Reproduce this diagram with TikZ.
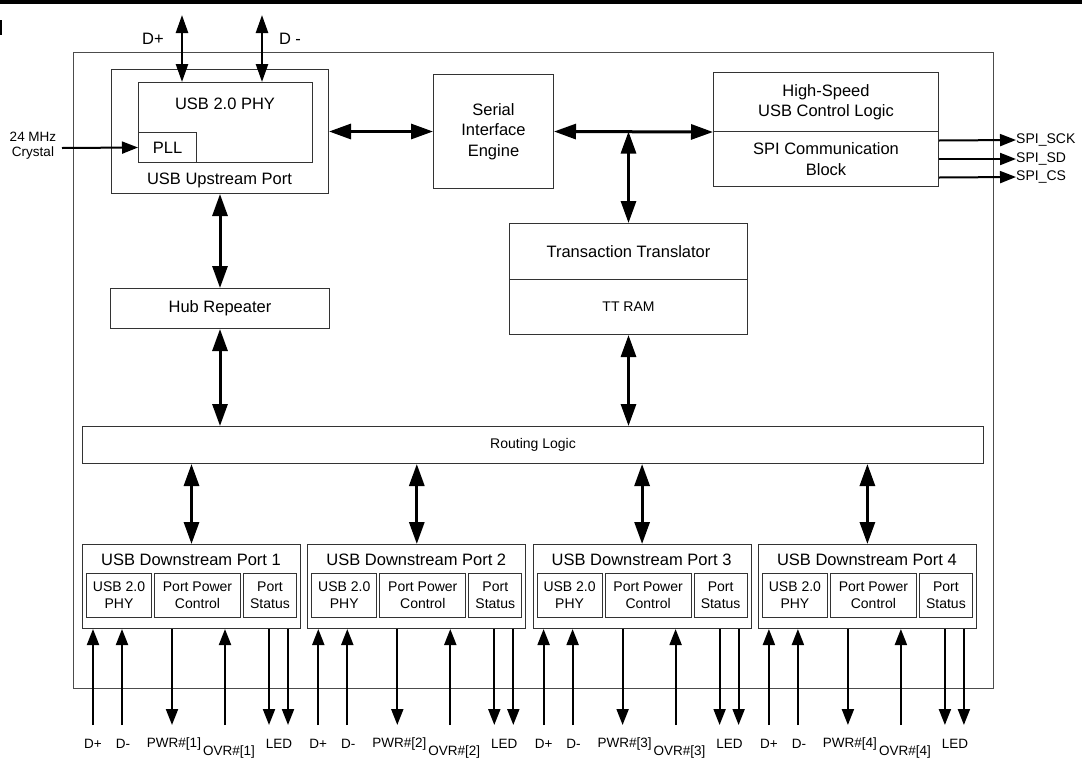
\documentclass[tikz,border=0pt]{standalone}
\usepackage{fontspec}
\setmainfont{Liberation Sans}
\usepackage{tikz}
\usetikzlibrary{arrows.meta,positioning}

\newcommand{\fntbig}{\fontsize{16.5}{20.5}\selectfont}
\newcommand{\fntmid}{\fontsize{14}{17}\selectfont}
\newcommand{\fntpin}{\fontsize{13.5}{15}\selectfont}

\begin{document}
\begin{tikzpicture}[x=1pt, y=-1pt]
    \useasboundingbox (0,0) rectangle (1082,761);
    % Define styles
    \tikzstyle{blk} = [rectangle, draw=black!80, line width=1pt, inner sep=0pt, anchor=north west, align=center, font=\fntbig]
    \tikzstyle{lbl} = [inner sep=0pt, align=center, font=\fntbig]
    \tikzstyle{bus} = [line width=3pt, {Triangle[length=22pt,width=15pt]}-{Triangle[length=22pt,width=15pt]}]
    \tikzstyle{dbus} = [line width=2.5pt, {Triangle[length=18pt,width=12pt]}-{Triangle[length=18pt,width=12pt]}]
    \tikzstyle{pin} = [line width=2pt, -{Triangle[length=16pt,width=12pt]}]

    % Page edge
    \fill (0,0) rectangle (1082,4);
    \fill (0,20) rectangle (2,35);

    % Nodes
    \node[blk, draw=black!70, minimum width=920pt, minimum height=636pt] (chip) at (73,52) {};
    \node[blk, minimum width=217pt, minimum height=124pt] (up) at (111,69) {};
    \node[blk, minimum width=174pt, minimum height=80pt] (phy) at (138,82) {};
    \node[blk, minimum width=58pt, minimum height=30pt] (pll) at (138,132) {PLL};
    \node[lbl] (phylbl) at (225,104) {USB 2.0 PHY};
    \node[lbl] (uplbl) at (219.5,180) {USB Upstream Port};
    \node[lbl, font=\fntpin] (xtal) at (33,146) {24 MHz\\Crystal};
    \node[lbl] (dplbl) at (153,39) {D+};
    \node[lbl] (dmlbl) at (290,39) {D -};
    \node[blk, minimum width=120pt, minimum height=114pt] (sie) at (433,74) {Serial\\Interface\\Engine};
    \node[blk, minimum width=225pt, minimum height=59pt] (hs) at (713,72) {High-Speed\\USB Control Logic};
    \node[blk, minimum width=225pt, minimum height=55pt] (spi) at (713,131) {SPI Communication\\Block};
    \node[lbl, font=\fntmid, anchor=west] (lsck) at (1016,140) {SPI\_SCK};
    \node[lbl, font=\fntmid, anchor=west] (lsd) at (1016,159) {SPI\_SD};
    \node[lbl, font=\fntmid, anchor=west] (lcs) at (1016,177) {SPI\_CS};
    \node[blk, minimum width=238pt, minimum height=56pt] (tt) at (509,223) {Transaction Translator};
    \node[blk, minimum width=238pt, minimum height=55pt, font=\fntmid] (ttram) at (509,279) {TT RAM};
    \node[blk, minimum width=219pt, minimum height=40pt] (hub) at (110,288) {Hub Repeater};
    \node[blk, minimum width=901pt, minimum height=37pt, font=\fntmid] (route) at (82,426) {Routing Logic};
    \coordinate (dpin) at (182,15);
    \coordinate (dmin) at (262,15);
    \coordinate (xin) at (62,148);

    % Connections
    \draw[dbus] (dpin) -- (dpin |- phy.north);
    \draw[dbus] (dmin) -- (dmin |- phy.north);
    \draw[pin] (xin) -- (pll.west);
    \draw[bus] (up.east) -- (sie.west);
    \draw[bus] (sie.east) -- (hs.south west);
    \draw[bus] (tt.north |- sie.east) -- (tt.north);
    \draw[pin] ([yshift=18.5pt]spi.east) -- (lsck.west);
    \draw[pin] (spi.east) -- (lsd.west);
    \draw[pin] ([yshift=-18.5pt]spi.east) -- (lcs.west);
    \draw[bus] (up.south) -- (hub.north);
    \draw[bus] (hub.south) -- (hub.south |- route.north);
    \draw[bus] (ttram.south) -- (ttram.south |- route.north);

    % Downstream ports
    \foreach \i in {1,...,4} {
        \pgfmathsetmacro{\px}{82+225.3*(\i-1)}
        \node[blk, minimum width=218pt, minimum height=84pt] (port\i) at (\px,544) {};
        \node[lbl] (ptitle\i) at (\px+109,560) {USB Downstream Port \i};
        \node[blk, minimum width=65pt, minimum height=44pt, font=\fntmid] (uphy\i) at (\px+4,573) {USB 2.0\\PHY};
        \node[blk, minimum width=86pt, minimum height=44pt, font=\fntmid] (ppc\i) at (\px+72,573) {Port Power\\Control};
        \node[blk, minimum width=53pt, minimum height=44pt, font=\fntmid] (pst\i) at (\px+161,573) {Port\\Status};
        \coordinate (dp\i) at (\px+11,725);
        \coordinate (dm\i) at (\px+40,725);
        \coordinate (pw\i) at (\px+90,725);
        \coordinate (ov\i) at (\px+143,725);
        \coordinate (la\i) at (\px+187,725);
        \coordinate (lb\i) at (\px+206,725);
        \node[lbl, font=\fntpin] (ldp\i) at (\px+11,744) {D+};
        \node[lbl, font=\fntpin] (ldm\i) at (\px+41,744) {D-};
        \node[lbl, font=\fntpin] (lpw\i) at (\px+92,744) {PWR\#[\i]};
        \node[lbl, font=\fntpin] (lov\i) at (\px+147,752) {OVR\#[\i]};
        \node[lbl, font=\fntpin] (lled\i) at (\px+197,744) {LED};
        \draw[bus] (port\i.north |- route.south) -- (port\i.north);
        \draw[pin] (dp\i) -- (dp\i |- port\i.south);
        \draw[pin] (dm\i) -- (dm\i |- port\i.south);
        \draw[pin] (pw\i |- port\i.south) -- (pw\i);
        \draw[pin] (ov\i) -- (ov\i |- port\i.south);
        \draw[pin] (la\i |- port\i.south) -- (la\i);
        \draw[pin] (lb\i |- port\i.south) -- (lb\i);
    }
\end{tikzpicture}
\end{document}
